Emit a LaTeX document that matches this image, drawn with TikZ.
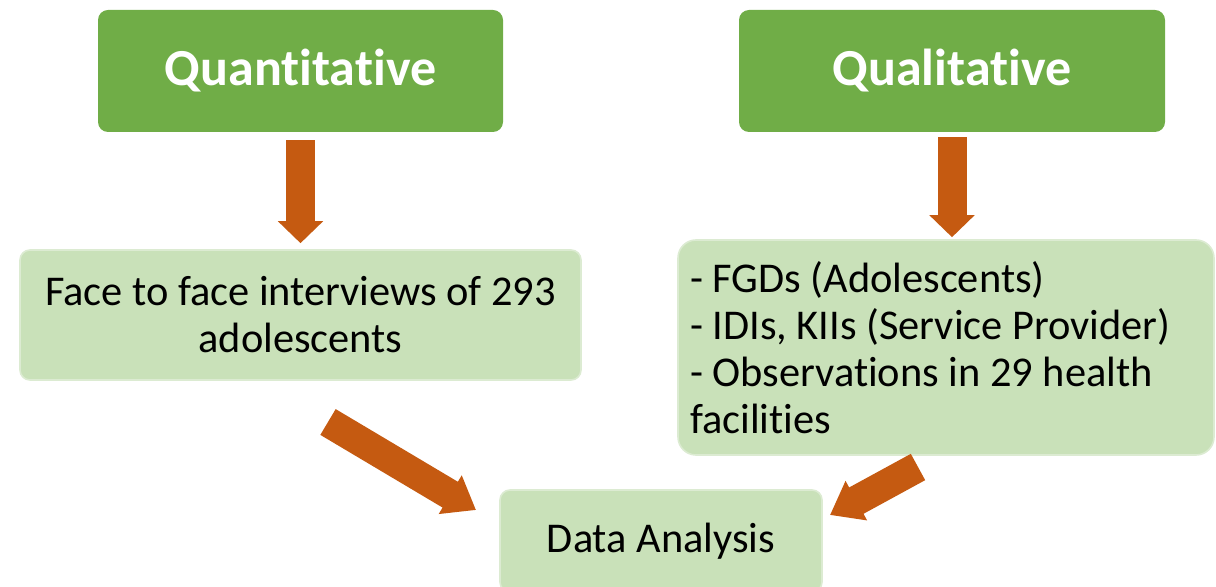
\documentclass[tikz,border=0pt]{standalone}
\usepackage{fontspec}
\setmainfont{Carlito}[RawFeature={-liga;-clig;-calt;-dlig;-hlig}]
\usetikzlibrary{arrows.meta, positioning}

\definecolor{headgreen}{HTML}{70AD47}
\definecolor{boxgreen}{HTML}{C9E1B9}
\definecolor{rimgreen}{HTML}{DCEBD2}
\definecolor{arroworange}{HTML}{C55A11}

\begin{document}
\begin{tikzpicture}[x=0.5pt, y=-0.5pt,
    head/.style={fill=headgreen, rounded corners=5pt, text=white,
      font=\fontsize{26}{31}\selectfont\bfseries, inner sep=0pt},
    item/.style={fill=boxgreen, draw=rimgreen, line width=0.8pt, rounded corners=5pt,
      font=\fontsize{21.2}{23.5}\selectfont, inner sep=6pt},
    blockarrow/.style={color=arroworange, line width=14.5pt,
      -{Triangle[length=11pt, width=22pt]}},
    slantarrow/.style={color=arroworange, line width=15pt,
      -{Triangle[length=15pt, width=21.5pt]}}]
      \useasboundingbox (0,0) rectangle (1216,587);

      % Nodes
      \node[head, minimum width=202.5pt, minimum height=61pt] (quant) at (300.5, 71) {Quantitative};
      \node[head, minimum width=213pt, minimum height=61pt] (qual) at (952, 71) {Qualitative};
      \node[item, minimum width=280.5pt, minimum height=65pt, align=center] (face) at (300.5, 315)
        {Face to face interviews of 293\\adolescents};
      \node[item, rounded corners=9pt, minimum width=268pt, minimum height=107.5pt,
            text width=256pt, align=flush left] (fgd) at (946, 347.5)
        {- FGDs (Adolescents)\\- IDIs, KIIs (Service Provider)\\- Observations in 29 health\\facilities};
      \node[item, minimum width=161pt, minimum height=51pt] (data) at (661, 541) {Data Analysis};

      \coordinate (lfrom) at (328, 422);
      \coordinate (lto) at (476, 510);
      \coordinate (rfrom) at (918, 467);
      \coordinate (rto) at (830, 515);

      % Edges
      \path[blockarrow] (quant) edge[shorten <=4pt, shorten >=3pt] (face);
      \path[blockarrow] (qual.south) edge[shorten <=2.5pt, shorten >=1pt] (qual.south |- fgd.north);
      \path[slantarrow] (lfrom) edge (lto)
                        (rfrom) edge (rto);

    \end{tikzpicture}
\end{document}
